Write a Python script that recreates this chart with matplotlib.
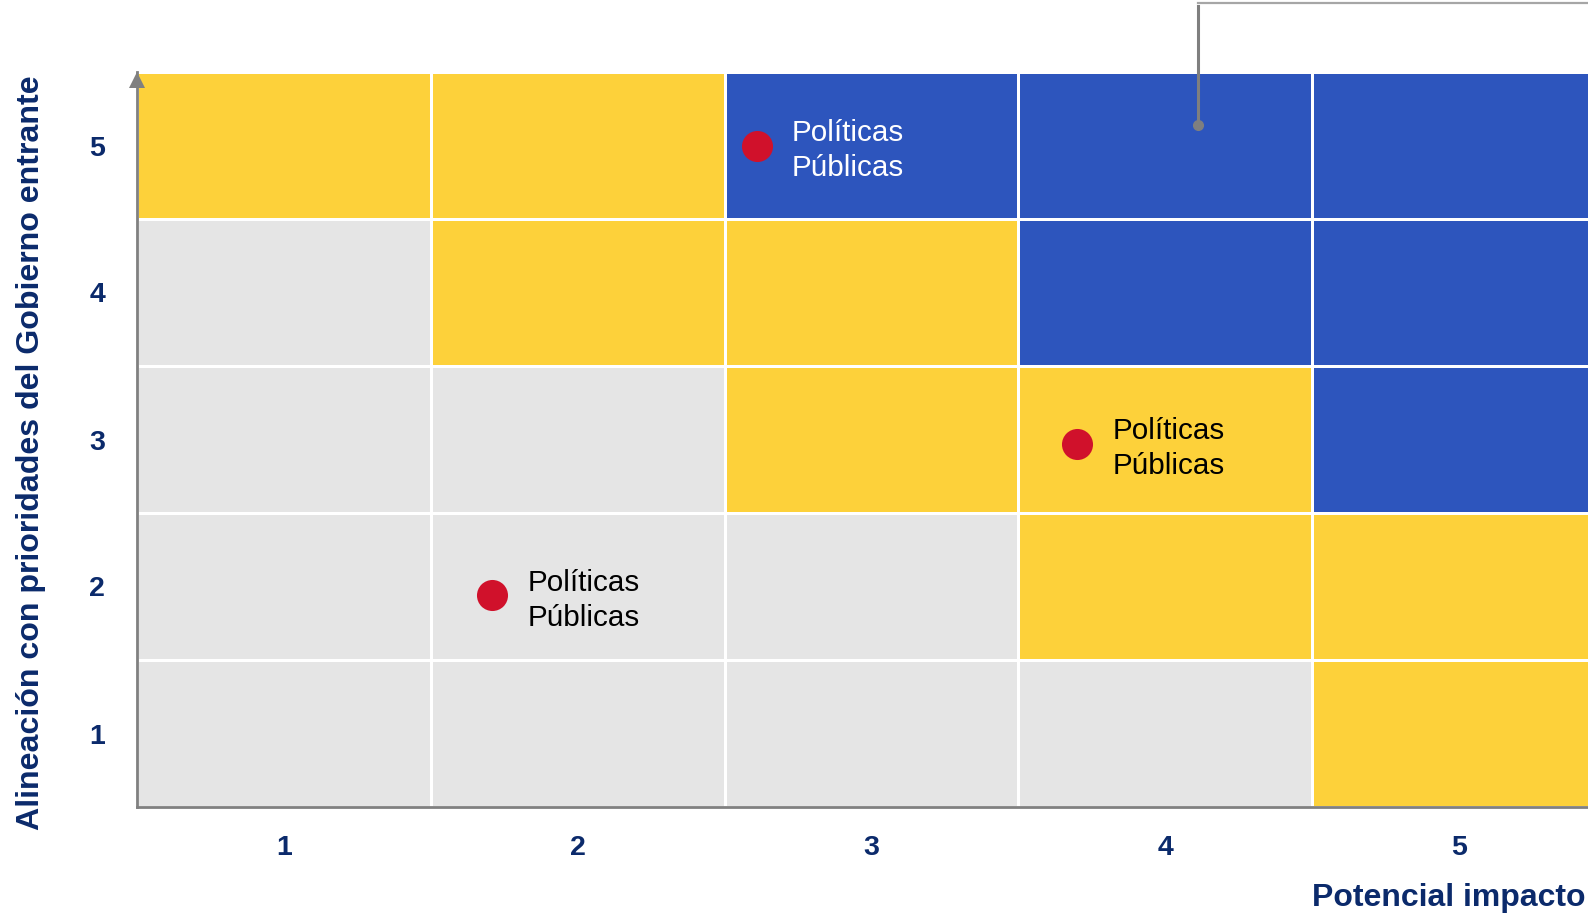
import matplotlib.pyplot as plt
import numpy as np
from matplotlib.colors import ListedColormap

# Matriz de priorización: potencial impacto vs alineación
x_levels = [1, 2, 3, 4, 5]
y_levels = [1, 2, 3, 4, 5]

# zona de cada celda, filas de y=1 (abajo) a y=5 (arriba): 0 gris, 1 amarillo, 2 azul
zones = [
    [0, 0, 0, 0, 1],
    [0, 0, 0, 1, 1],
    [0, 0, 1, 1, 2],
    [0, 1, 1, 2, 2],
    [1, 1, 2, 2, 2],
]
zone_colors = ['#E5E5E5', '#FDD13A', '#2D55BD']

# iniciativas
point_x = [2.61, 3.70, 1.71]
point_y = [5.00, 2.97, 1.94]
point_labels = ['Políticas\nPúblicas', 'Políticas\nPúblicas', 'Políticas\nPúblicas']
label_colors = ['white', 'black', 'black']

navy = '#0B2A6B'
gray = '#808080'

plt.rcParams['font.family'] = ['Liberation Sans', 'DejaVu Sans']

fig = plt.figure(figsize=(15.88, 9.16), dpi=100)
ax = fig.add_axes([137 / 1588, 1 - 807 / 916, (1606 - 137) / 1588, (807 - 72) / 916])

edges_x = np.arange(0.5, 6.0, 1.0)
edges_y = np.arange(0.5, 6.0, 1.0)
ax.pcolormesh(edges_x, edges_y, np.array(zones), cmap=ListedColormap(zone_colors),
              vmin=-0.5, vmax=2.5, edgecolor='white', linewidth=1.9)

ax.scatter(point_x, point_y, s=500, color='#D0112B', zorder=3, linewidths=0)
for x, y, lab, c in zip(point_x, point_y, point_labels, label_colors):
    ax.annotate(lab, (x, y), xytext=(35, -5), textcoords='offset pixels',
                ha='left', va='center', fontsize=21.3, color=c, linespacing=1.32)

ax.set_xlim(0.5, 5.5)
ax.set_ylim(0.5, 5.5)
ax.set_xticks(x_levels)
ax.set_yticks(y_levels)
ax.tick_params(length=0, labelsize=20.5, labelcolor=navy)
ax.tick_params(axis='x', pad=20)
ax.tick_params(axis='y', pad=23)
for t in ax.get_xticklabels() + ax.get_yticklabels():
    t.set_fontweight('bold')

for side in ['top', 'right']:
    ax.spines[side].set_visible(False)
for side in ['left', 'bottom']:
    ax.spines[side].set_color(gray)
    ax.spines[side].set_linewidth(2)
    ax.spines[side].set_zorder(4)

# flecha del eje y
ax.plot([0.5], [5.5 - 8 / 147], marker='^', markersize=11.5, color=gray,
        clip_on=False, zorder=5, markeredgewidth=0)

# conector del recuadro superior
ax.plot([4.11, 4.11], [5.14, 5.95], color='#7F7F7F', lw=2.2, clip_on=False, zorder=4)
ax.plot([4.11, 5.6], [5.97, 5.97], color='#A6A6A6', lw=1.6, clip_on=False, zorder=4)
ax.plot([4.11], [5.14], marker='o', markersize=7, color='#7F7F7F', clip_on=False, zorder=4)

fig.text(31 / 1588, 1 - 453 / 916, 'Alineación con prioridades del Gobierno entrante',
         rotation=90, ha='center', va='center', fontsize=23.1, fontweight='bold', color=navy)
xlab = fig.text(1586 / 1588, 1 - 898 / 916, 'Potencial impacto', ha='right', va='center',
                fontsize=23.0, fontweight='bold', color=navy)

fig.savefig('out.png', dpi=100)
